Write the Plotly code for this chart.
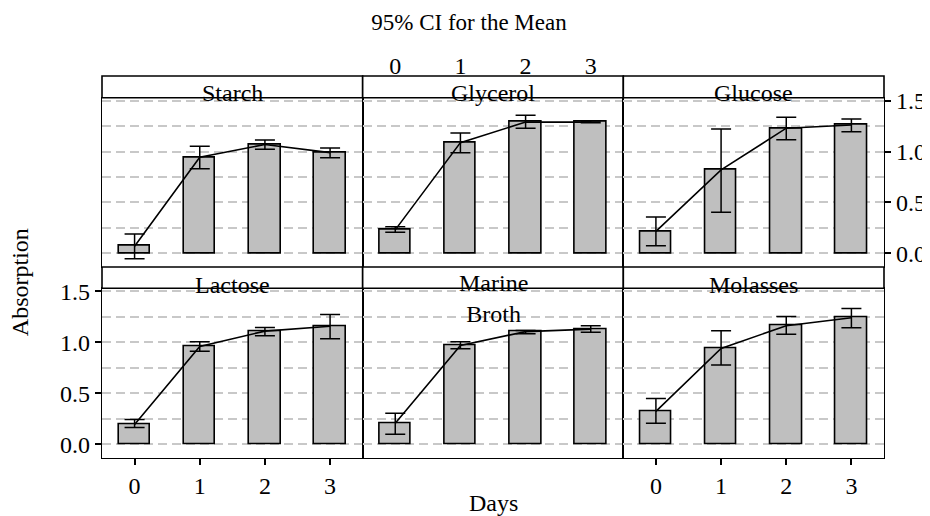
import plotly.graph_objects as go

days = [0, 1, 2, 3]
day_labels = ["0", "1", "2", "3"]
panel_names = ["Starch", "Glycerol", "Glucose", "Lactose", "Marine<br>Broth", "Molasses"]

starch_mean = [0.07, 0.944, 1.07, 0.99]
starch_upper = [0.19, 1.052, 1.114, 1.035]
starch_lower = [-0.055, 0.832, 1.023, 0.94]

glycerol_mean = [0.23, 1.088, 1.29, 1.29]
glycerol_upper = [0.262, 1.183, 1.357, 1.30]
glycerol_lower = [0.206, 0.989, 1.229, 1.283]

glucose_mean = [0.215, 0.82, 1.23, 1.262]
glucose_upper = [0.357, 1.222, 1.337, 1.32]
glucose_lower = [0.075, 0.403, 1.117, 1.196]

lactose_mean = [0.194, 0.959, 1.11, 1.157]
lactose_upper = [0.243, 1.005, 1.146, 1.274]
lactose_lower = [0.164, 0.913, 1.064, 1.034]

marine_mean = [0.205, 0.969, 1.105, 1.13]
marine_upper = [0.305, 1.005, 1.117, 1.163]
marine_lower = [0.099, 0.936, 1.084, 1.10]

molasses_mean = [0.322, 0.939, 1.163, 1.241]
molasses_upper = [0.45, 1.113, 1.254, 1.333]
molasses_lower = [0.207, 0.778, 1.08, 1.143]

y_ticks = [0, 0.5, 1.0, 1.5]
y_tick_labels = ["0.0", "0.5", "1.0", "1.5"]

series = [
    (starch_mean, starch_upper, starch_lower),
    (glycerol_mean, glycerol_upper, glycerol_lower),
    (glucose_mean, glucose_upper, glucose_lower),
    (lactose_mean, lactose_upper, lactose_lower),
    (marine_mean, marine_upper, marine_lower),
    (molasses_mean, molasses_upper, molasses_lower),
]

FONT = "Liberation Serif"
FS = 24
YR = [-0.135, 1.53]
XR = [-0.5, 3.5]

row_dom = {0: [0.5, 0.9432], 1: [0.0, 0.4442]}
strip_dom = {0: [0.9432, 1.0], 1: [0.4442, 0.5]}

fig = go.Figure()
layout = dict(
    width=922, height=508,
    margin=dict(l=94, r=46, t=68, b=58, autoexpand=False),
    paper_bgcolor="white", plot_bgcolor="white",
    showlegend=False,
    font=dict(family=FONT, size=FS, color="black"),
    bargap=0,
)

shapes = []
annotations = []
for i, (name, (m, up, lo)) in enumerate(zip(panel_names, series)):
    r, c = divmod(i, 3)
    k = i + 1
    xa = "x" if k == 1 else f"x{k}"
    ya = "y" if k == 1 else f"y{k}"
    fig.add_trace(go.Bar(
        x=days, y=m, xaxis=xa, yaxis=ya, width=0.48,
        marker=dict(color="#bfbfbf", line=dict(color="black", width=1.6)),
        hoverinfo="skip",
    ))
    fig.add_trace(go.Scatter(
        x=days, y=m, xaxis=xa, yaxis=ya, mode="lines",
        line=dict(color="black", width=1.6),
        error_y=dict(type="data", symmetric=False,
                     array=[u - v for u, v in zip(up, m)],
                     arrayminus=[v - l for v, l in zip(m, lo)],
                     color="black", thickness=1.5, width=10),
        hoverinfo="skip",
    ))
    xd = [c / 3, (c + 1) / 3]
    xkey = "xaxis" if k == 1 else f"xaxis{k}"
    ykey = "yaxis" if k == 1 else f"yaxis{k}"
    show_x = (r == 1 and c in (0, 2))
    layout[xkey] = dict(
        domain=xd, anchor=ya, range=XR, tickvals=days, ticktext=day_labels,
        showgrid=False, zeroline=False, showline=True, mirror=True,
        linecolor="black", linewidth=1.3, automargin=False,
        ticks="outside" if show_x else "", ticklen=6, tickwidth=1.5, tickcolor="black",
        showticklabels=show_x, fixedrange=True,
    )
    show_y_left = (r == 1 and c == 0)
    show_y_right = (r == 0 and c == 2)
    show_y = show_y_left or show_y_right
    layout[ykey] = dict(
        domain=row_dom[r], anchor=xa, range=YR,
        tickvals=y_ticks, ticktext=y_tick_labels,
        side="right" if show_y_right else "left",
        showgrid=True, gridcolor="#c8c8c8", gridwidth=1.5, griddash="9px,5px",
        minor=dict(dtick=0.25, tick0=0, showgrid=True, gridcolor="#c8c8c8",
                   gridwidth=1.5, griddash="9px,5px", ticks=""),
        zeroline=False, showline=True, mirror=True, automargin=False,
        linecolor="black", linewidth=1.3,
        ticks="outside" if show_y else "", ticklen=6, tickwidth=1.5, tickcolor="black",
        showticklabels=show_y, fixedrange=True,
    )
    shapes.append(dict(
        type="rect", xref="paper", yref="paper",
        x0=xd[0], x1=xd[1], y0=strip_dom[r][0], y1=strip_dom[r][1],
        line=dict(color="black", width=1.6), fillcolor="white", layer="above",
    ))
    multi = "<br>" in name
    annotations.append(dict(
        text=name, xref="paper", yref="paper",
        x=(xd[0] + xd[1]) / 2, y=(0.956 if r == 0 else 0.454),
        xanchor="center", yanchor="middle", showarrow=False,
        yshift=(-14 if multi else 0),
        font=dict(family=FONT, size=FS, color="black"),
    ))

# top tick labels above the middle column
fig.add_trace(go.Scatter(
    x=days, y=glycerol_mean, xaxis="x7", yaxis="y2", mode="markers",
    marker=dict(opacity=0), hoverinfo="skip",
))
layout["xaxis7"] = dict(
    overlaying="x2", anchor="free", position=1.0, side="top",
    range=XR, tickvals=days, ticktext=day_labels, automargin=False,
    showgrid=False, zeroline=False, showline=False, ticks="",
    ticklabelstandoff=-3,
    showticklabels=True, fixedrange=True,
)

annotations.append(dict(
    text="Absorption", xref="paper", yref="paper", x=-0.105, y=0.46,
    xanchor="center", yanchor="middle", textangle=-90, showarrow=False,
    font=dict(family=FONT, size=FS, color="black"),
))
annotations.append(dict(
    text="Days", xref="paper", yref="paper", x=0.5, y=-0.118,
    xanchor="center", yanchor="middle", showarrow=False,
    font=dict(family=FONT, size=FS, color="black"),
))

layout["shapes"] = shapes
layout["annotations"] = annotations
layout["title"] = dict(
    text="95% CI for the Mean", x=0.5, xanchor="center",
    y=1 - 14 / 508, yanchor="middle", yref="container", automargin=False,
    font=dict(family=FONT, size=23, color="black"),
)
fig.update_layout(**layout)
fig.write_html("out.html")
